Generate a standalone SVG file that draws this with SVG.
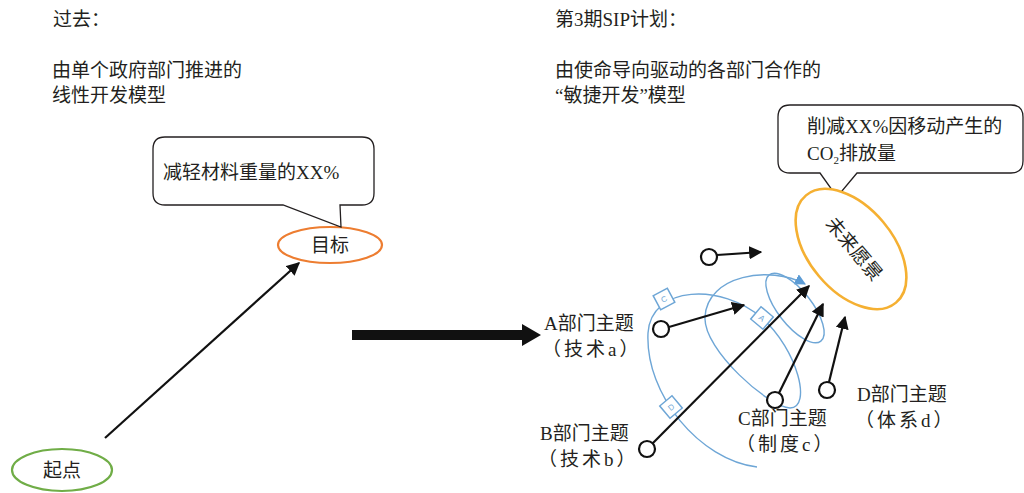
<svg xmlns="http://www.w3.org/2000/svg" width="1024" height="493" viewBox="0 0 1024 493">
<style>
text{font-family:"Liberation Serif","Noto Sans CJK SC",serif;fill:#231f20;font-size:19px}
.blk{stroke:#111;stroke-width:2.2;fill:none}
.blu{stroke:#6ea6d6;stroke-width:1.4;fill:none}
.dot{fill:#fff;stroke:#111;stroke-width:2.2}
.tag{fill:#fff;stroke:#6ea6d6;stroke-width:1.5}
.tagt{font-family:"Liberation Sans",sans-serif;font-size:8px;fill:#6ea6d6}
.bubble{fill:#fff;stroke:#231f20;stroke-width:1.3}
.sp{letter-spacing:3px}
</style>
<defs>
<marker id="ah" viewBox="0 0 10 10" refX="9" refY="5" markerWidth="6" markerHeight="6" orient="auto" markerUnits="strokeWidth">
<path d="M0,0 L10,5 L0,10 z" fill="#111"/>
</marker>
<marker id="bh" viewBox="0 0 10 10" refX="9" refY="5" markerWidth="8" markerHeight="8" orient="auto" markerUnits="strokeWidth">
<path d="M0,0 L10,5 L0,10 z" fill="#5b9bd5"/>
</marker>
</defs>

<g id="titles">
<text x="53" y="26">过去：</text>
<text x="52" y="77">由单个政府部门推进的</text>
<text x="52" y="102">线性开发模型</text>
<text x="555" y="26">第3期SIP计划：</text>
<text x="555" y="77">由使命导向驱动的各部门合作的</text>
<text x="555" y="102">“敏捷开发”模型</text>
</g>

<g id="connectors">
<line class="blk" x1="105" y1="438" x2="299" y2="263" marker-end="url(#ah)"/>
<polygon points="352,330 522,330 522,324 541,335 522,346 522,340 352,340" fill="#111"/>
<path class="blu" d="M757,467 C700,460 645,395 648,333 C651,285 722,283 762,318 C798,350 812,408 790,408 C770,408 703,350 705,317 C707,275 770,265 805,284" marker-end="url(#bh)"/>
<ellipse class="blu" cx="795" cy="308" rx="42" ry="17" transform="rotate(52 795 308)"/>
<line class="blk" x1="717" y1="255" x2="761" y2="252" marker-end="url(#ah)" stroke-width="3"/>
<line class="blk" x1="669" y1="327" x2="744" y2="305" marker-end="url(#ah)"/>
<line class="blk" x1="652" y1="444" x2="809" y2="286" marker-end="url(#ah)"/>
<line class="blk" x1="779" y1="393" x2="823" y2="304" marker-end="url(#ah)"/>
<line class="blk" x1="829" y1="382" x2="845" y2="317" marker-end="url(#ah)" stroke-width="3"/>
</g>

<g id="tags">
<g transform="translate(664 299) rotate(-28)"><rect class="tag" x="-8" y="-8" width="16" height="16"/><text class="tagt" x="0" y="3" text-anchor="middle">C</text></g>
<g transform="translate(762 318) rotate(40)"><rect class="tag" x="-8" y="-8" width="16" height="16"/><text class="tagt" x="0" y="3" text-anchor="middle">A</text></g>
<g transform="translate(671 407) rotate(-40)"><rect class="tag" x="-8" y="-8" width="16" height="16"/><text class="tagt" x="0" y="3" text-anchor="middle">D</text></g>
</g>

<g id="start">
<ellipse cx="62" cy="470" rx="50" ry="21" fill="#fff" stroke="#70ad47" stroke-width="2.2"/>
<text x="62" y="477" text-anchor="middle">起点</text>
</g>

<g id="goal">
<ellipse cx="330" cy="245" rx="52" ry="18" fill="#fff" stroke="#ed7d31" stroke-width="2.2"/>
<text x="330" y="252" text-anchor="middle">目标</text>
</g>

<g id="callout1">
<path class="bubble" d="M165,137 H362 Q374,137 374,149 V193 Q374,205 362,205 H340 L341,227 L283,205 H165 Q153,205 153,193 V149 Q153,137 165,137 Z"/>
<text x="163" y="179">减轻材料重量的XX%</text>
</g>

<g id="callout2">
<path class="bubble" d="M790,105 H1011 Q1023,105 1023,117 V161 Q1023,173 1011,173 H857 L837,197 L820,173 H790 Q778,173 778,161 V117 Q778,105 790,105 Z"/>
<text x="807" y="133">削减XX%因移动产生的</text>
<text x="807" y="160">CO<tspan font-size="11" dy="4">2</tspan><tspan dy="-4">排放量</tspan></text>
</g>

<g id="vision">
<ellipse cx="851" cy="249" rx="70" ry="42" fill="#fff" stroke="#f5b032" stroke-width="2.6" transform="rotate(50 851 249)"/>
<text x="853" y="255" text-anchor="middle" font-size="17" transform="rotate(50 853 250)">未来愿景</text>
</g>

<g id="dots">
<circle class="dot" cx="709" cy="257" r="8"/>
<circle class="dot" cx="661" cy="329" r="8"/>
<circle class="dot" cx="647" cy="449" r="8"/>
<circle class="dot" cx="775" cy="400" r="8"/>
<circle class="dot" cx="827" cy="390" r="8"/>
</g>

<g id="labels">
<text x="544" y="330">A部门主题</text>
<text class="sp" x="542" y="356">（技术a）</text>
<text x="540" y="440">B部门主题</text>
<text class="sp" x="538" y="466">（技术b）</text>
<text x="738" y="425">C部门主题</text>
<text class="sp" x="736" y="451">（制度c）</text>
<text x="857" y="401">D部门主题</text>
<text class="sp" x="855" y="427">（体系d）</text>
</g>
</svg>
